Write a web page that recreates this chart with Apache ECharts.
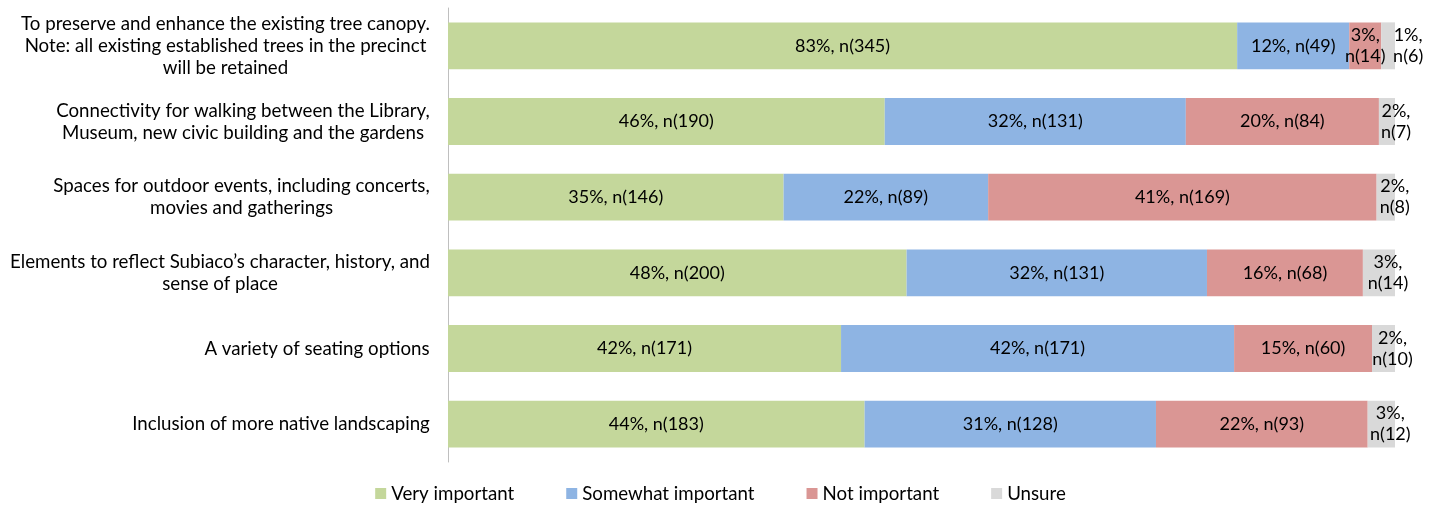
<!DOCTYPE html>
<html>
<head>
<meta charset="utf-8">
<script src="https://cdn.jsdelivr.net/npm/echarts@6/dist/echarts.min.js"></script>
<style>
  html, body { margin: 0; padding: 0; background: #fff; }
  #chart { width: 1441px; height: 506px; }
</style>
</head>
<body>
<div id="chart"></div>
<script>
// priorities, top to bottom
const categories = [
  'To preserve and enhance the existing tree canopy.\nNote: all existing established trees in the precinct\nwill be retained',
  'Connectivity for walking between the Library,\nMuseum, new civic building and the gardens',
  'Spaces for outdoor events, including concerts,\nmovies and gatherings',
  'Elements to reflect Subiaco\u2019s character, history, and\nsense of place',
  'A variety of seating options',
  'Inclusion of more native landscaping',
];
const seriesNames = ['Very important', 'Somewhat important', 'Not important', 'Unsure'];
const colors = ['#C4D79B', '#8EB4E3', '#DA9694', '#D9D9D9'];

// response counts per row
const veryCounts = [345, 190, 146, 200, 171, 183];
const somewhatCounts = [49, 131, 89, 131, 171, 128];
const notCounts = [14, 84, 169, 68, 60, 93];
const unsureCounts = [6, 7, 8, 14, 10, 12];

// percentages as printed on the labels
const veryPct = [83, 46, 35, 48, 42, 44];
const somewhatPct = [12, 32, 22, 32, 42, 31];
const notPct = [3, 20, 41, 16, 15, 22];
const unsurePct = [1, 2, 2, 3, 2, 3];

const counts = [veryCounts, somewhatCounts, notCounts, unsureCounts];
const pcts = [veryPct, somewhatPct, notPct, unsurePct];
const totals = categories.map((_, i) => counts.reduce((s, a) => s + a[i], 0));

const FONT = 'Lato, "Open Sans", sans-serif';
const AXIS_FS = 18.7;
const BAR_FS = 18;

// measure label lines so each multi-line label is centred in its own box
const ctx = document.createElement('canvas').getContext('2d');
ctx.font = `${AXIS_FS}px ${FONT}`;
const rich = {};
categories.forEach((c, i) => {
  const w = Math.max(...c.split('\n').map(l => ctx.measureText(l).width));
  rich['l' + i] = { width: Math.ceil(w), align: 'center', fontSize: AXIS_FS, fontFamily: FONT, color: '#000', lineHeight: 22 };
});

const chart = echarts.init(document.getElementById('chart'));
chart.setOption({
  animation: false,
  textStyle: { fontFamily: FONT },
  grid: { left: 448, right: 46, top: 8, bottom: 44 },
  legend: {
    bottom: -2, left: 'center',
    itemWidth: 11, itemHeight: 11, itemGap: 52,
    icon: 'rect',
    textStyle: { fontSize: 18.7, color: '#000', fontFamily: FONT },
    data: seriesNames,
  },
  xAxis: { type: 'value', min: 0, max: 100, show: false },
  yAxis: {
    type: 'category', inverse: true, data: categories,
    axisLine: { lineStyle: { color: '#BFBFBF' } },
    axisTick: { show: false },
    axisLabel: {
      margin: 18,
      formatter: (v, i) => v.split('\n').map(l => `{l${i}|${l}}`).join('\n'),
      rich,
    },
  },
  series: seriesNames.map((name, si) => ({
    name, type: 'bar', stack: 'all',
    barCategoryGap: '38%',
    itemStyle: { color: colors[si] },
    label: {
      show: true, position: 'inside',
      fontSize: BAR_FS, color: '#000', fontFamily: FONT, lineHeight: 21,
      formatter: p => {
        const i = p.dataIndex;
        const sep = pcts[si][i] < 5 ? ',\n' : ', ';
        return `${pcts[si][i]}%${sep}n(${counts[si][i]})`;
      },
    },
    data: counts[si].map((c, i) => ({
      value: c / totals[i] * 100,
      label: si === 3 ? { offset: [i === 0 ? 20 : 9, 0] } : undefined,
    })),
  })),
});
</script>
</body>
</html>
